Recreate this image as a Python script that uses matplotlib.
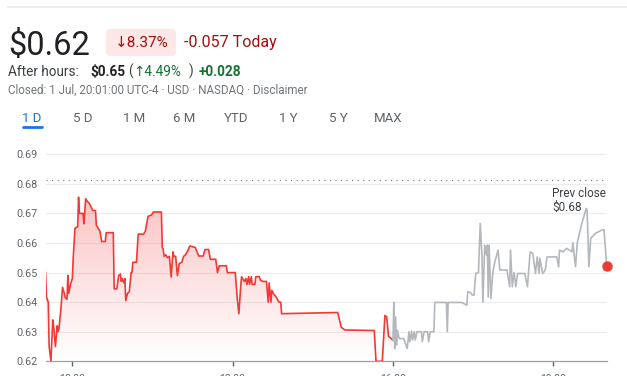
import numpy as np
import matplotlib
matplotlib.use("Agg")
import matplotlib.pyplot as plt
from matplotlib.patches import Polygon, FancyBboxPatch

# --- data (minutes since 09:30, price in USD) ---
red_min = [0, 1, 3, 4, 6, 8, 9, 11, 13, 14, 15, 17, 19, 21, 22, 24, 25, 26, 28, 30,
           31, 33, 36, 37, 38, 42, 43, 45, 47, 49, 53, 56, 57, 59, 61, 63, 67, 68, 76, 77,
           80, 82, 84, 85, 86, 88, 89, 90, 92, 94, 96, 97, 98, 102, 104, 110, 112, 115, 119, 121,
           130, 131, 132, 133, 135, 137, 139, 141, 143, 144, 146, 148, 150, 153, 155, 157, 159, 162, 168, 172,
           177, 179, 183, 185, 191, 193, 195, 203, 204, 213, 215, 217, 219, 220, 223, 225, 226, 228, 229, 231,
           232, 235, 236, 240, 241, 244, 248, 250, 251, 253, 254, 256, 259, 262, 264, 265, 328, 330, 332, 336,
           369, 371, 378, 381, 383, 385, 387, 390]
red_price = [0.650, 0.6416, 0.640, 0.625, 0.620, 0.634, 0.632, 0.625, 0.632, 0.630, 0.631, 0.637, 0.645, 0.643, 0.6415, 0.641, 0.649, 0.643, 0.646, 0.648,
             0.655, 0.665, 0.6655, 0.6755, 0.670, 0.670, 0.6665, 0.675, 0.674, 0.6735, 0.671, 0.671, 0.666, 0.665, 0.664, 0.6605, 0.6605, 0.6635, 0.6635, 0.6445,
             0.6445, 0.649, 0.6495, 0.647, 0.648, 0.6465, 0.648, 0.6405, 0.643, 0.6435, 0.650, 0.650, 0.6535, 0.6535, 0.663, 0.663, 0.664, 0.669, 0.6695, 0.6705,
             0.6705, 0.6584, 0.658, 0.6555, 0.656, 0.655, 0.6555, 0.6485, 0.657, 0.6555, 0.6555, 0.649, 0.653, 0.6535, 0.6555, 0.656, 0.657, 0.659, 0.6585, 0.6556,
             0.6556, 0.6578, 0.6578, 0.6545, 0.6545, 0.650, 0.6523, 0.6523, 0.650, 0.650, 0.6418, 0.6361, 0.645, 0.6486, 0.647, 0.648, 0.646, 0.6486, 0.646, 0.6486,
             0.646, 0.646, 0.6486, 0.6486, 0.6475, 0.647, 0.647, 0.640, 0.6465, 0.640, 0.644, 0.6428, 0.6417, 0.640, 0.640, 0.6361, 0.6365, 0.634, 0.6315, 0.6306,
             0.6304, 0.620, 0.620, 0.6355, 0.635, 0.6284, 0.628, 0.6271]

ah_min = [390, 391, 392, 393, 394, 395, 397, 402, 406, 408, 409, 411, 412, 414, 415, 417, 422, 423, 425, 429,
          430, 432, 436, 437, 450, 451, 452, 467, 473, 474, 477, 479, 481, 483, 486, 488, 490, 491, 493, 495,
          496, 497, 498, 500, 502, 504, 508, 510, 518, 521, 522, 524, 526, 528, 530, 538, 541, 544, 547, 550,
          552, 554, 555, 558, 561, 563, 574, 576, 577, 581, 585, 591, 592, 595, 597, 602, 607, 608, 610, 612,
          617, 624, 627, 630]
ah_price = [0.6271, 0.640, 0.6243, 0.635, 0.6255, 0.6305, 0.6277, 0.6277, 0.6243, 0.630, 0.6266, 0.6302, 0.6272, 0.630, 0.6272, 0.630, 0.630, 0.6266, 0.630, 0.630,
            0.6266, 0.630, 0.630, 0.6399, 0.6399, 0.630, 0.6399, 0.6399, 0.639, 0.6435, 0.6433, 0.6424, 0.6424, 0.6497, 0.650, 0.6666, 0.655, 0.640, 0.6593, 0.6559,
            0.6593, 0.6417, 0.6593, 0.6412, 0.6497, 0.6531, 0.6576, 0.6509, 0.6509, 0.6452, 0.6576, 0.6452, 0.650, 0.6452, 0.6497, 0.6497, 0.6452, 0.657, 0.6565, 0.6497,
            0.6553, 0.6497, 0.6548, 0.6497, 0.6508, 0.6553, 0.6553, 0.6519, 0.6576, 0.657, 0.6582, 0.657, 0.6601, 0.652, 0.6601, 0.6666, 0.6717, 0.6711, 0.652, 0.6615,
            0.6632, 0.6643, 0.6645, 0.6522]

prev_close = 0.6813
y_ticks = [0.62, 0.63, 0.64, 0.65, 0.66, 0.67, 0.68, 0.69]
x_ticks = [30, 210, 390, 570]
x_labels = ["10:00", "13:00", "16:00", "19:00"]
tabs = ["1 D", "5 D", "1 M", "6 M", "YTD", "1 Y", "5 Y", "MAX"]
tab_x = [32, 83, 134, 184, 236, 288, 338, 388]

W, H = 627, 376
RED = "#f03a35"
GREY_TXT = "#5f6368"
FONT = ["Roboto", "DejaVu Sans"]
plt.rcParams["font.family"] = FONT


def fx(x):
    return x / W


def fy(y):
    return 1 - y / H


fig = plt.figure(figsize=(W / 100, H / 100), dpi=100)

# top separator
fig.add_artist(plt.Line2D([fx(8), fx(627)], [fy(7), fy(7)], color="#ebebeb", lw=1.2))

# header
fig.text(fx(8), fy(55), "$0.62", fontsize=23.5, color="#202124", va="baseline")
fig.add_artist(FancyBboxPatch((fx(109), fy(53)), fx(64), (27 - 6) / H,
                              boxstyle="round,pad=0.005,rounding_size=0.008",
                              transform=fig.transFigure, fc="#fce8e6", ec="none",
                              mutation_aspect=W / H))
fig.text(fx(115), fy(47), "↓8.37%", fontsize=11, color="#a50e0e", va="baseline")
fig.text(fx(184), fy(47), "-0.057 Today", fontsize=11.5, color="#a50e0e", va="baseline")

sub = 9.8
fig.text(fx(8), fy(76), "After hours:", fontsize=sub, color="#3c4043", va="baseline")
fig.text(fx(90), fy(76), "$0.65", fontsize=sub, color="#202124", weight="bold", va="baseline")
fig.text(fx(128), fy(76), "(", fontsize=sub, color="#3c4043", va="baseline")
fig.text(fx(133), fy(76), "↑4.49%", fontsize=sub, color="#137333", va="baseline")
fig.text(fx(188.5), fy(76), ")", fontsize=sub, color="#3c4043", va="baseline")
fig.text(fx(199), fy(76), "+0.028", fontsize=sub, color="#137333", weight="bold", va="baseline")
fig.text(fx(8), fy(93.5), "Closed: 1 Jul, 20:01:00 UTC-4 · USD · NASDAQ · Disclaimer",
         fontsize=8.4, color="#70757a", va="baseline")

for t, x in zip(tabs, tab_x):
    c = "#1a73e8" if t == "1 D" else GREY_TXT
    fig.text(fx(x), fy(122), t, fontsize=9.5, color=c, ha="center", va="baseline")
fig.add_artist(plt.Line2D([fx(23), fx(42)], [fy(126.5), fy(126.5)], color="#1a73e8",
                          lw=2, solid_capstyle="round"))

# chart
ax = fig.add_axes([fx(45.6), fy(361.3), fx(606.7 - 45.6), (361.3 - 154.3) / H * 1.007])
ax.set_xlim(0, 630)
ax.set_ylim(0.62, 0.69 + 0.07 * 0.007)

for v in y_ticks[1:]:
    ax.axhline(v, color="#ececec", lw=0.8, zorder=0)
ax.axhline(prev_close, color="#7a7a7a", lw=0.8, ls=(0, (1, 4)), zorder=1)

# gradient fill under the market-hours line
poly = Polygon(list(zip([red_min[0]] + red_min + [red_min[-1]],
                        [0.62] + red_price + [0.62])), closed=True, fc="none", ec="none")
ax.add_patch(poly)
n = 256
grad = np.zeros((n, 1, 4))
grad[..., 0] = 0.96
grad[..., 1] = 0.25
grad[..., 2] = 0.25
grad[:, 0, 3] = np.linspace(0.32, 0.0, n)
img = ax.imshow(grad, extent=[0, 630, 0.62, 0.677], aspect="auto", origin="upper", zorder=1)
img.set_clip_path(poly)

ax.plot(red_min, red_price, color=RED, lw=1.2, zorder=3, solid_joinstyle="round")
ax.plot(ah_min, ah_price, color="#b4b8bd", lw=1.2, zorder=3, solid_joinstyle="round")
ax.plot(ah_min[-1], ah_price[-1], "o", color="#ea3b35", ms=6.5, zorder=4, clip_on=False)

ax.text(0.903, 0.835, "Prev close\n$0.68", transform=ax.transAxes, fontsize=8.5,
        color="#3c4043", va="top", ha="left", linespacing=1.1)

for s in ["top", "right", "left"]:
    ax.spines[s].set_visible(False)
ax.spines["bottom"].set_color("#9aa0a6")
ax.spines["bottom"].set_linewidth(0.9)

ax.set_yticks(y_ticks)
ax.set_yticklabels([f"{v:.2f}" for v in y_ticks])
ax.tick_params(axis="y", length=0, pad=6, labelsize=7.8, labelcolor=GREY_TXT)
ax.set_xticks(x_ticks)
ax.set_xticklabels(x_labels)
ax.tick_params(axis="x", length=3.5, width=1, color="#5f6368", pad=5.5,
               labelsize=7.5, labelcolor=GREY_TXT)

fig.savefig("out.png", dpi=100)
